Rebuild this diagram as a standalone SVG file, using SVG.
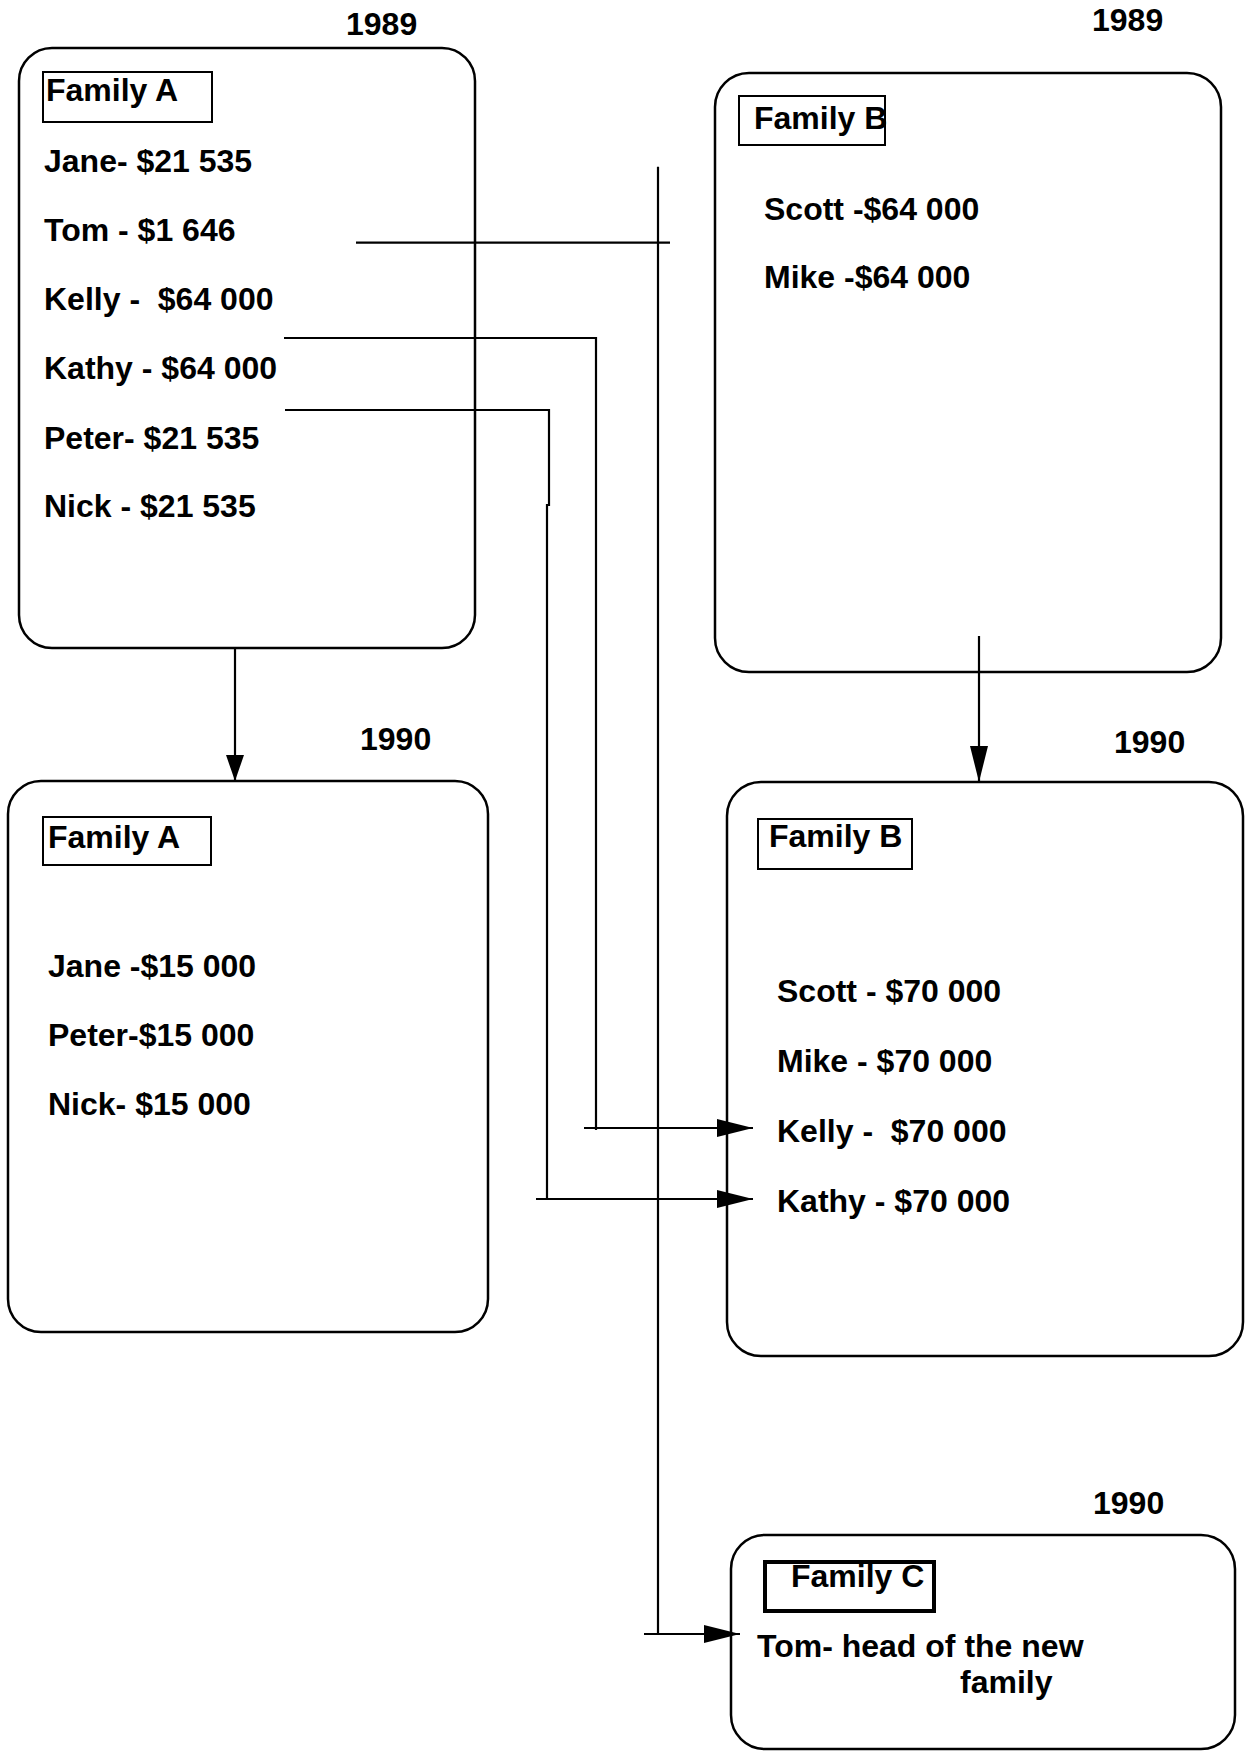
<svg xmlns="http://www.w3.org/2000/svg" width="1246" height="1752" viewBox="0 0 1246 1752">
<defs>
<style>
text{font-family:"Liberation Sans",Arial,Helvetica,sans-serif;font-weight:bold;font-size:32px;fill:#000;white-space:pre}
.box{fill:none;stroke:#000;stroke-width:2.5}
.lbl{fill:none;stroke:#000;stroke-width:2}
.lblc{fill:none;stroke:#000;stroke-width:4}
.con{fill:none;stroke:#000;stroke-width:2.2}
</style>
<marker id="arr" viewBox="0 0 36 18" refX="36" refY="9" markerWidth="36" markerHeight="18" markerUnits="userSpaceOnUse" orient="auto">
<path d="M0,0 L36,9 L0,18 z" fill="#000"/>
</marker>
<marker id="arrs" viewBox="0 0 26 18" refX="26" refY="9" markerWidth="26" markerHeight="18" markerUnits="userSpaceOnUse" orient="auto">
<path d="M0,0 L26,9 L0,18 z" fill="#000"/>
</marker>
</defs>
<rect width="1246" height="1752" fill="#fff"/>

<g id="familyA1989">
<text x="346" y="35">1989</text>
<rect class="box" x="19" y="48" width="456" height="600" rx="33"/>
<rect class="lbl" x="43" y="72" width="169" height="50"/>
<text x="46" y="101">Family A</text>
<text x="44" y="172">Jane- $21 535</text>
<text x="44" y="241">Tom - $1 646</text>
<text x="44" y="310" xml:space="preserve">Kelly -  $64 000</text>
<text x="44" y="379">Kathy - $64 000</text>
<text x="44" y="449">Peter- $21 535</text>
<text x="44" y="517">Nick - $21 535</text>
</g>

<g id="familyB1989">
<text x="1092" y="31">1989</text>
<rect class="box" x="715" y="73" width="506" height="599" rx="34"/>
<rect class="lbl" x="739" y="96" width="146" height="49"/>
<text x="754" y="129">Family B</text>
<text x="764" y="220">Scott -$64 000</text>
<text x="764" y="288">Mike -$64 000</text>
</g>

<g id="familyA1990">
<text x="360" y="750">1990</text>
<rect class="box" x="8" y="781" width="480" height="551" rx="33"/>
<rect class="lbl" x="43" y="817" width="168" height="48"/>
<text x="48" y="848">Family A</text>
<text x="48" y="977">Jane -$15 000</text>
<text x="48" y="1046">Peter-$15 000</text>
<text x="48" y="1115">Nick- $15 000</text>
</g>

<g id="familyB1990">
<text x="1114" y="753">1990</text>
<rect class="box" x="727" y="782" width="516" height="574" rx="34"/>
<rect class="lbl" x="758" y="819" width="154" height="50"/>
<text x="769" y="847">Family B</text>
<text x="777" y="1002">Scott - $70 000</text>
<text x="777" y="1072">Mike - $70 000</text>
<text x="777" y="1142" xml:space="preserve">Kelly -  $70 000</text>
<text x="777" y="1212">Kathy - $70 000</text>
</g>

<g id="familyC1990">
<text x="1093" y="1514">1990</text>
<rect class="box" x="731" y="1535" width="504" height="214" rx="34"/>
<rect class="lblc" x="765" y="1562" width="169" height="49"/>
<text x="791" y="1587">Family C</text>
<text x="757" y="1657">Tom- head of the new</text>
<text x="960" y="1693">family</text>
</g>

<g id="connectors">
<line class="con" x1="235" y1="649" x2="235" y2="781" marker-end="url(#arrs)"/>
<line class="con" x1="979" y1="636" x2="979" y2="782" marker-end="url(#arr)"/>
<line class="con" x1="356" y1="242.7" x2="670" y2="242.7"/>
<line class="con" x1="658" y1="166.7" x2="658" y2="1634"/>
<line class="con" x1="644" y1="1634" x2="740" y2="1634" marker-end="url(#arr)"/>
<line class="con" x1="284" y1="338" x2="597" y2="338"/>
<line class="con" x1="596" y1="337" x2="596" y2="1130"/>
<line class="con" x1="584" y1="1128" x2="753" y2="1128" marker-end="url(#arr)"/>
<line class="con" x1="285" y1="410" x2="550" y2="410"/>
<line class="con" x1="549" y1="409" x2="549" y2="506"/>
<line class="con" x1="547" y1="504" x2="547" y2="1200"/>
<line class="con" x1="536" y1="1199" x2="753" y2="1199" marker-end="url(#arr)"/>
</g>
</svg>
